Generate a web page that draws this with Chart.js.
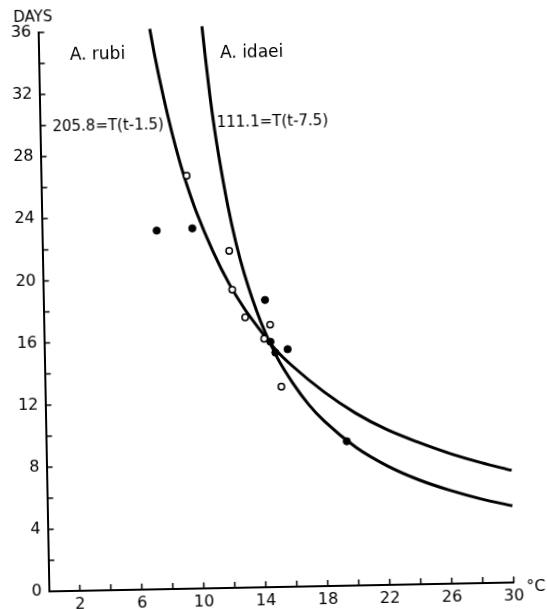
<!DOCTYPE html>
<html>
<head>
<meta charset="utf-8">
<script src="https://cdn.jsdelivr.net/npm/chart.js@4.4.1/dist/chart.umd.min.js"></script>
<style>
    html, body { margin: 0; padding: 0; background: #fff; }
    #wrap { width: 547px; height: 609px; overflow: hidden; background: #fff; }
    /* the printed plate sits slightly askew */
    #devChart { transform: rotate(-1.1deg); transform-origin: 276px 307.5px; }
</style>
</head>
<body>
<div id="wrap"><canvas id="devChart" width="547" height="609"></canvas></div>
<script>
// temperature (°C) / development time (days)
const xTickLabels = [2, 6, 10, 14, 18, 22, 26, 30];
const yTickLabels = [0, 4, 8, 12, 16, 20, 24, 28, 32, 36];

// A. rubi, 205.8 = T(t-1.5)
const rubiTemp = [7.2, 7.5, 8, 8.5, 9, 9.5, 10, 11, 12, 13, 14, 15, 16, 18, 20, 22, 24, 26, 28, 30];
const rubiDays = [36.1, 34.3, 31.7, 29.4, 27.4, 25.7, 24.2, 21.7, 19.6, 17.9, 16.5, 15.2, 14.2, 12.5, 11.1, 10.0, 9.15, 8.4, 7.77, 7.22];

// A. idaei, 111.1 = T(t-7.5)
const idaeiTemp = [10.57, 10.75, 11, 11.25, 11.5, 12, 12.5, 13, 14, 15, 16, 17, 18, 20, 22, 24, 26, 28, 30];
const idaeiDays = [36.2, 34.2, 31.7, 29.6, 27.8, 24.7, 22.2, 20.2, 17.1, 14.8, 13.1, 11.7, 10.6, 8.89, 7.66, 6.73, 6.01, 5.42, 4.94];

// observed, filled dots
const filledTemp = [7.4, 9.7, 14.3, 14.6, 14.9, 15.7, 19.4];
const filledDays = [23.1, 23.2, 18.5, 15.8, 15.1, 15.3, 9.3];

// observed, open circles
const openTemp = [9.4, 12.05, 12.2, 13.0, 14.2, 14.6, 15.25];
const openDays = [26.6, 21.7, 19.2, 17.4, 16.0, 16.9, 12.9];

const FONT = '"DejaVu Sans", "Liberation Sans", sans-serif';

function toPoints(xs, ys) {
    return xs.map((v, i) => ({ x: v, y: ys[i] }));
}

// =========================
// ticks pointing inward + free text
// =========================
const decorations = {
    id: 'decorations',
    afterDraw(chart) {
        const { ctx, chartArea, scales: { x, y } } = chart;
        ctx.save();
        ctx.strokeStyle = '#000';
        ctx.lineWidth = 1.5;
        ctx.beginPath();
        for (let v = 2; v <= 30; v += 2) {
            const px = x.getPixelForValue(v);
            ctx.moveTo(px, chartArea.bottom);
            ctx.lineTo(px, chartArea.bottom - 6);
        }
        for (let v = 2; v <= 36; v += 2) {
            const py = y.getPixelForValue(v);
            ctx.moveTo(chartArea.left, py);
            ctx.lineTo(chartArea.left + 6, py);
        }
        ctx.stroke();

        ctx.fillStyle = '#000';
        ctx.textAlign = 'center';
        ctx.textBaseline = 'middle';

        ctx.font = '15px ' + FONT;
        ctx.fillText('DAYS', chartArea.left - 5, chartArea.top - 15);
        ctx.font = '16px ' + FONT;
        ctx.fillText('°C', chartArea.right + 22, chartArea.bottom + 5);

        ctx.font = '17px ' + FONT;
        ctx.fillText('A. rubi', x.getPixelForValue(3.8), y.getPixelForValue(34.5));
        ctx.fillText('A. idaei', x.getPixelForValue(13.75), y.getPixelForValue(34.4));
        ctx.font = '15px ' + FONT;
        ctx.fillText('205.8=T(t-1.5)', x.getPixelForValue(4.4), y.getPixelForValue(29.9));
        ctx.fillText('111.1=T(t-7.5)', x.getPixelForValue(15.0), y.getPixelForValue(29.95));
        ctx.restore();
    }
};

const canvas = document.getElementById('devChart');
new Chart(canvas.getContext('2d'), {
    type: 'scatter',
    data: {
        datasets: [
            {
                label: 'open',
                data: toPoints(openTemp, openDays),
                backgroundColor: '#fff',
                borderColor: '#000',
                borderWidth: 1.5,
                pointRadius: 3.2
            },
            {
                label: 'filled',
                data: toPoints(filledTemp, filledDays),
                backgroundColor: '#000',
                borderColor: '#000',
                borderWidth: 1,
                pointRadius: 3.6
            },
            {
                label: 'A. rubi',
                data: toPoints(rubiTemp, rubiDays),
                showLine: true,
                borderColor: '#000',
                borderWidth: 3,
                pointRadius: 0,
                cubicInterpolationMode: 'monotone',
                clip: false
            },
            {
                label: 'A. idaei',
                data: toPoints(idaeiTemp, idaeiDays),
                showLine: true,
                borderColor: '#000',
                borderWidth: 3,
                pointRadius: 0,
                cubicInterpolationMode: 'monotone',
                clip: false
            }
        ]
    },
    options: {
        responsive: false,
        animation: false,
        layout: { padding: { top: 28, right: 38.5, left: 0, bottom: 0 } },
        plugins: {
            legend: { display: false },
            tooltip: { enabled: false }
        },
        scales: {
            x: {
                type: 'linear',
                min: 0,
                max: 30,
                afterFit: s => { s.height = 22; },
                border: { display: true, color: '#000', width: 2 },
                grid: { display: false, drawTicks: false },
                ticks: {
                    stepSize: 2,
                    autoSkip: false,
                    maxRotation: 0,
                    padding: 4,
                    color: '#000',
                    font: { family: FONT, size: 16 },
                    callback: v => xTickLabels.includes(v) ? String(v) : ''
                }
            },
            y: {
                type: 'linear',
                min: 0,
                max: 36,
                afterFit: s => { s.width = 43.5; },
                border: { display: true, color: '#000', width: 2 },
                grid: { display: false, drawTicks: false },
                ticks: {
                    stepSize: 2,
                    autoSkip: false,
                    padding: 7,
                    color: '#000',
                    font: { family: FONT, size: 16 },
                    callback: v => yTickLabels.includes(v) ? String(v) : ''
                }
            }
        }
    },
    plugins: [decorations]
});
</script>
</body>
</html>
